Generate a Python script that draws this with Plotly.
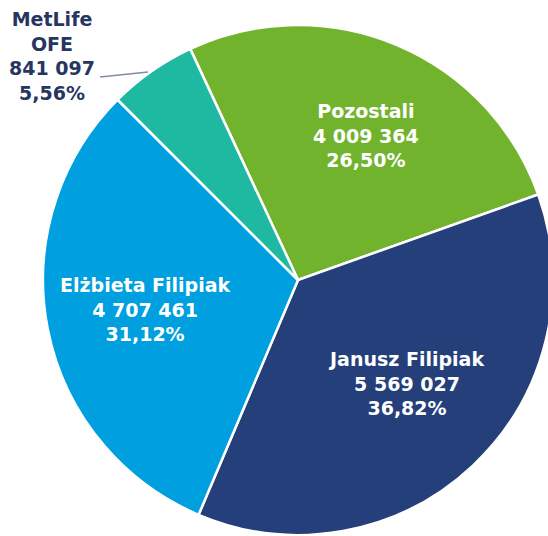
import plotly.graph_objects as go

# Data
labels = ["Pozostali", "Janusz Filipiak", "Elżbieta Filipiak", "MetLife<br>OFE"]
values = [4009364, 5569027, 4707461, 841097]
percents = ["26,50%", "36,82%", "31,12%", "5,56%"]
colors = ["#72B32E", "#243F7A", "#009FE0", "#1FB9A2"]

W, H = 553, 536  # slightly wider than window: pie is clipped on the right as in the reference

def fmt(v):
    return f"{v:,}".replace(",", " ")

fig = go.Figure(go.Pie(
    labels=labels,
    values=values,
    sort=False,
    direction="clockwise",
    rotation=-25,
    marker=dict(colors=colors, line=dict(color="white", width=2.5)),
    textinfo="none",
    hoverinfo="skip",
    showlegend=False,
    domain=dict(x=[43 / W, 1], y=[1 / H, 511 / H]),
))

# label positions (pixels, center of text block) and colours
label_pos = [(366, 135), (406, 383), (145, 309), (52, 56)]
label_colors = ["white", "white", "white", "#26365F"]

for lab, v, p, (px, py), c in zip(labels, values, percents, label_pos, label_colors):
    fig.add_annotation(
        x=px / W, y=1 - py / H, xref="paper", yref="paper",
        text=f"<b>{lab}<br>{fmt(v)}<br>{p}</b>",
        showarrow=False, xanchor="center", yanchor="middle",
        font=dict(family="DejaVu Sans", size=19, color=c),
        align="center",
    )

# leader line for MetLife
fig.add_shape(type="line", xref="paper", yref="paper",
              x0=100 / W, y0=1 - 77 / H, x1=148 / W, y1=1 - 72 / H,
              line=dict(color="#7F8DA3", width=1.5))

fig.update_layout(
    width=W, height=H,
    margin=dict(l=0, r=0, t=0, b=0),
    paper_bgcolor="white", plot_bgcolor="white",
)

fig.write_html(
    "out.html",
    config={"displayModeBar": False},
    post_script="document.body.style.margin='0';document.body.style.overflow='hidden';",
)
